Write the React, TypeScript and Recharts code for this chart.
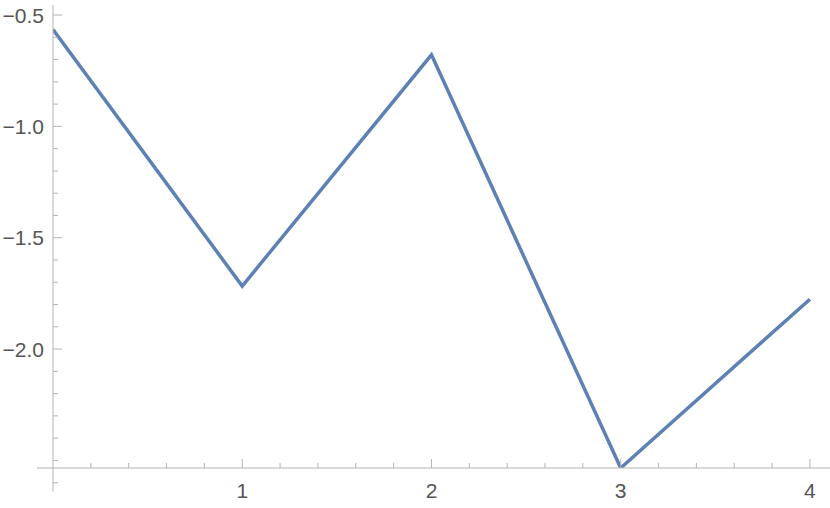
import React from "react";
import { LineChart, Line, XAxis, YAxis, ReferenceLine } from "recharts";

const xValues = [0, 1, 2, 3, 4];
const yValues = [-0.565, -1.717, -0.679, -2.534, -1.776];

const xMajorTicks = [1, 2, 3, 4];
const xMinorTicks = [0.2, 0.4, 0.6, 0.8, 1.2, 1.4, 1.6, 1.8, 2.2, 2.4, 2.6, 2.8, 3.2, 3.4, 3.6, 3.8];
const yMajorTicks = [-0.5, -1.0, -1.5, -2.0];
const yMinorTicks = [-0.6, -0.7, -0.8, -0.9, -1.1, -1.2, -1.3, -1.4, -1.6, -1.7, -1.8, -1.9, -2.1, -2.2, -2.3, -2.4, -2.5, -2.6];

const xDomain: [number, number] = [0, 4.106];
const yDomain: [number, number] = [-2.534, -0.455];
const xAxisLeftEnd = -0.085;
const yAxisBottomEnd = -2.64;

const data = xValues.map((x, i) => ({ x, y: yValues[i] }));

const AXIS = "#b3b3b3";
const LABEL = "#555555";
const FONT = "'Liberation Sans', Arial, sans-serif";

const isIn = (arr: number[], v: number) => arr.some((a) => Math.abs(a - v) < 1e-6);

const fmt = (v: number, digits: number) => {
  const s = Math.abs(v).toFixed(digits);
  return v < 0 ? "\u2212" + s : s;
};

const XTick = (props: any) => {
  const { x, y, payload } = props;
  const major = isIn(xMajorTicks, payload.value);
  const len = major ? 9 : 5;
  return (
    <g>
      <line x1={x} x2={x} y1={y} y2={y - len} stroke={AXIS} strokeWidth={1} />
      {major && (
        <text x={x} y={y + 30} textAnchor="middle" fill={LABEL} fontSize={21} fontFamily={FONT}>
          {fmt(payload.value, 0)}
        </text>
      )}
    </g>
  );
};

const YTick = (props: any) => {
  const { x, y, payload } = props;
  const major = isIn(yMajorTicks, payload.value);
  const len = major ? 9 : 5;
  return (
    <g>
      <line x1={x} x2={x + len} y1={y} y2={y} stroke={AXIS} strokeWidth={1} />
      {major && (
        <text x={x - 9} y={y} dy="0.36em" textAnchor="end" fill={LABEL} fontSize={21} fontFamily={FONT}>
          {fmt(payload.value, 1)}
        </text>
      )}
    </g>
  );
};

export default function App() {
  return (
    <div style={{ position: "absolute", left: 0, top: 0, background: "#fff" }}>
      <LineChart width={830} height={508} data={data} margin={{ top: 5, right: 0, bottom: 0, left: 0 }}>
        <XAxis
          dataKey="x"
          type="number"
          domain={xDomain}
          ticks={[...xMinorTicks, ...xMajorTicks].sort((a, b) => a - b)}
          interval={0}
          tickLine={false}
          tickSize={0}
          tickMargin={0}
          height={40}
          axisLine={{ stroke: AXIS, strokeWidth: 1 }}
          tick={<XTick />}
          allowDataOverflow
        />
        <YAxis
          dataKey="y"
          type="number"
          domain={yDomain}
          ticks={[...yMajorTicks, ...yMinorTicks].sort((a, b) => a - b)}
          interval={0}
          tickLine={false}
          tickSize={0}
          tickMargin={0}
          width={53}
          axisLine={{ stroke: AXIS, strokeWidth: 1 }}
          tick={<YTick />}
          allowDataOverflow
        />
        <ReferenceLine
          segment={[{ x: xAxisLeftEnd, y: yDomain[0] }, { x: 0, y: yDomain[0] }]}
          stroke={AXIS}
          strokeWidth={1}
          ifOverflow="visible"
        />
        <ReferenceLine
          segment={[{ x: 0, y: yDomain[0] }, { x: 0, y: yAxisBottomEnd }]}
          stroke={AXIS}
          strokeWidth={1}
          ifOverflow="visible"
        />
        <Line
          dataKey="y"
          type="linear"
          stroke="#5e81b5"
          strokeWidth={3.5}
          dot={false}
          activeDot={false}
          isAnimationActive={false}
        />
      </LineChart>
    </div>
  );
}
